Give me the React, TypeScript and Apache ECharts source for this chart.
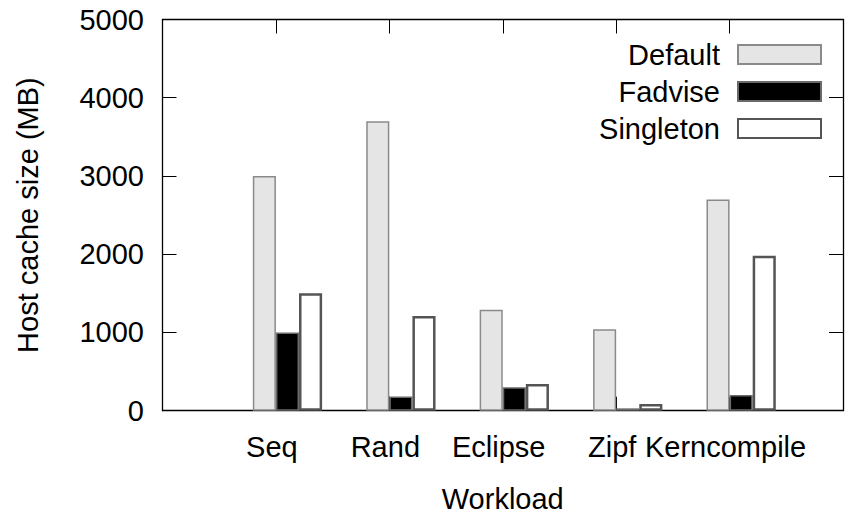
import React, { useEffect, useRef } from "react";
import * as echarts from "echarts";

const categories = ["Seq", "Rand", "Eclipse", "Zipf", "Kerncompile"];
const defaultValues = [3000, 3700, 1290, 1040, 2700];
const fadviseValues = [1000, 180, 300, 30, 200];
const singletonValues = [1500, 1210, 340, 85, 1980];
const seriesNames = ["Default", "Fadvise", "Singleton"];
const yMin = 0;
const yMax = 5000;
const yInterval = 1000;

const FONT = "Liberation Sans";
const FS = 29;

export default function App() {
  const ref = useRef<HTMLDivElement>(null);
  useEffect(() => {
    if (!ref.current) return;
    const chart = echarts.init(ref.current, undefined, { renderer: "svg" });
    // padded category list: one empty slot on each side of the workloads
    const cats = ["", ...categories, ""];
    const pad = (arr: number[]) => [null, ...arr, null];
    const barW = 23.1;
    const tickLen = 14;
    const axisLineStyle = { color: "#000", width: 1.3 };
    const tickStyle = { color: "#000", width: 1 };
    const option: any = {
      animation: false,
      backgroundColor: "#fff",
      textStyle: { fontFamily: FONT, color: "#000" },
      grid: { left: 162.5, top: 19.5, right: -9.5, bottom: 111.3, show: false },
      legend: {
        data: seriesNames,
        orient: "vertical",
        align: "right",
        right: 19,
        top: 35,
        itemWidth: 83,
        itemHeight: 19,
        itemGap: 8,
        icon: "rect",
        textStyle: { fontFamily: FONT, fontSize: FS, color: "#000", padding: [0, 13, 0, 0] },
      },
      xAxis: [
        {
          type: "category",
          data: cats,
          boundaryGap: false,
          position: "bottom",
          name: "Workload",
          nameLocation: "middle",
          nameGap: 74,
          nameTextStyle: { fontFamily: FONT, fontSize: FS, color: "#000" },
          axisLine: { show: true, onZero: false, lineStyle: axisLineStyle },
          axisTick: { show: true, inside: true, length: tickLen, lineStyle: tickStyle },
          axisLabel: { interval: 0, fontFamily: FONT, fontSize: FS, color: "#000", margin: 22, padding: [0, 8, 0, 0] },
          splitLine: { show: false },
        },
        {
          type: "category",
          data: cats,
          boundaryGap: false,
          position: "top",
          axisLine: { show: true, onZero: false, lineStyle: axisLineStyle },
          axisTick: { show: true, inside: true, length: tickLen, lineStyle: tickStyle },
          axisLabel: { show: false },
          splitLine: { show: false },
        },
      ],
      yAxis: [
        {
          type: "value",
          min: yMin,
          max: yMax,
          interval: yInterval,
          position: "left",
          name: "Host cache size (MB)",
          nameLocation: "middle",
          nameGap: 120,
          nameTextStyle: { fontFamily: FONT, fontSize: FS, color: "#000" },
          axisLine: { show: true, onZero: false, lineStyle: axisLineStyle },
          axisTick: { show: true, inside: true, length: tickLen, lineStyle: tickStyle },
          axisLabel: {
            fontFamily: FONT,
            fontSize: FS,
            color: "#000",
            margin: 18.5,
            formatter: (v: number) => String(v),
          },
          splitLine: { show: false },
        },
        {
          type: "value",
          min: yMin,
          max: yMax,
          interval: yInterval,
          position: "right",
          axisLine: { show: true, onZero: false, lineStyle: axisLineStyle },
          axisTick: { show: true, inside: true, length: tickLen, lineStyle: tickStyle },
          axisLabel: { show: false },
          splitLine: { show: false },
        },
      ],
      series: [
        {
          // empty slot so that each cluster starts at its tick, as in the source
          name: "_spacer",
          type: "bar",
          data: [],
          barWidth: barW,
          barGap: "0%",
          silent: true,
        },
        {
          name: seriesNames[0],
          type: "bar",
          data: pad(defaultValues),
          barWidth: barW,
          barGap: "0%",
          itemStyle: { color: "#e5e5e5", borderColor: "#8a8a8a", borderWidth: 1.5 },
        },
        {
          name: seriesNames[1],
          type: "bar",
          data: pad(fadviseValues),
          barWidth: barW,
          barGap: "0%",
          itemStyle: { color: "#000000", borderColor: "#6a6a6a", borderWidth: 1.5 },
        },
        {
          name: seriesNames[2],
          type: "bar",
          data: pad(singletonValues),
          barWidth: barW,
          barGap: "0%",
          itemStyle: { color: "#ffffff", borderColor: "#555555", borderWidth: 2.5 },
        },
      ],
    };
    chart.setOption(option);
    return () => chart.dispose();
  }, []);
  return (
    <div
      ref={ref}
      style={{ position: "absolute", left: 0, top: 0, width: 846, height: 522, background: "#fff" }}
    />
  );
}
